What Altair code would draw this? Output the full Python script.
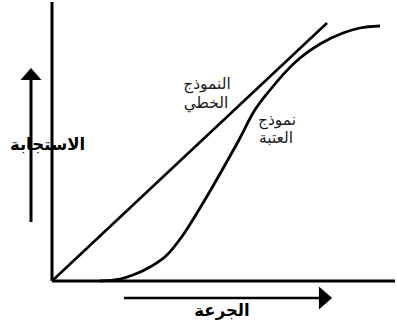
import altair as alt
import pandas as pd

# Coordinates in chart units: dose (x) and response (y), origin at the axes corner
linear_dose = [0, 275]
linear_resp = [0, 258]

threshold_dose = [48, 68, 81, 98, 115, 131, 148, 173, 188, 201, 218, 248, 268, 291, 308, 328]
threshold_resp = [0, 2, 6, 14, 26, 46, 73, 116, 143, 168, 191, 223, 237, 248, 253, 255]

# axes frame
yaxis_x = [0, 0]
yaxis_y = [0, 279]
xaxis_x = [0, 343]
xaxis_y = [0, 0]

# arrows (shaft start/end, head position)
varrow_x = [-21, -21]
varrow_y = [59, 201]
varrow_head = (-21, 207)
harrow_x = [72, 268]
harrow_y = [-17, -17]
harrow_head = (273.5, -17)

label_text = ["الاستجابة", "الجرعة", "النموذج", "الخطي", "نموذج", "العتبة"]
label_x = [-4.5, 170, 155, 154, 225, 224]
label_y = [136, -30, 197, 178, 161, 143]
label_bold = [True, True, False, False, False, False]

X = alt.Scale(domain=[-52, 345], range=[0, 397])
Y = alt.Scale(domain=[-48, 281], range=[329, 0])

def seg(xs, ys, width, order=True):
    df = pd.DataFrame({"x": xs, "y": ys, "o": list(range(len(xs)))})
    return alt.Chart(df).mark_line(color="black", strokeWidth=width, strokeCap="butt").encode(
        x=alt.X("x:Q", scale=X, axis=None),
        y=alt.Y("y:Q", scale=Y, axis=None),
        order="o:Q",
    )

labels = pd.DataFrame({"t": label_text, "x": label_x, "y": label_y, "b": label_bold})
bold_labels = alt.Chart(labels[labels.b]).mark_text(
    font="DejaVu Sans", fontSize=16.5, fontWeight="bold", color="black", baseline="middle", align="center"
).encode(x=alt.X("x:Q", scale=X, axis=None), y=alt.Y("y:Q", scale=Y, axis=None), text="t:N")
plain_labels = alt.Chart(labels[~labels.b]).mark_text(
    font="DejaVu Sans", fontSize=15.5, color="#1a1a1a", baseline="middle", align="center"
).encode(x=alt.X("x:Q", scale=X, axis=None), y=alt.Y("y:Q", scale=Y, axis=None), text="t:N")

threshold = pd.DataFrame({"x": threshold_dose, "y": threshold_resp})
threshold_line = alt.Chart(threshold).mark_line(
    color="black", strokeWidth=2.8, interpolate="monotone"
).encode(x=alt.X("x:Q", scale=X, axis=None), y=alt.Y("y:Q", scale=Y, axis=None))

vhead = alt.Chart(pd.DataFrame({"x": [varrow_head[0]], "y": [varrow_head[1]]})).mark_point(
    shape="M-1,0.57L0,-0.57L1,0.57Z", size=441, filled=True, color="black", opacity=1
).encode(x=alt.X("x:Q", scale=X, axis=None), y=alt.Y("y:Q", scale=Y, axis=None))
hhead = alt.Chart(pd.DataFrame({"x": [harrow_head[0]], "y": [harrow_head[1]]})).mark_point(
    shape="M-0.57,-1L0.57,0L-0.57,1Z", size=529, filled=True, color="black", opacity=1
).encode(x=alt.X("x:Q", scale=X, axis=None), y=alt.Y("y:Q", scale=Y, axis=None))

chart = alt.layer(
    bold_labels,
    plain_labels,
    seg(yaxis_x, yaxis_y, 3),
    seg(xaxis_x, xaxis_y, 3),
    seg(linear_dose, linear_resp, 2.6),
    threshold_line,
    seg(varrow_x, varrow_y, 3),
    seg(harrow_x, harrow_y, 2.5),
    vhead,
    hhead,
).properties(
    width=397, height=329, padding=0, autosize=alt.AutoSizeParams(type="none"),
    background="white",
).configure_view(stroke=None)

chart.save("out.html", embed_options={"renderer": "svg", "actions": False})
